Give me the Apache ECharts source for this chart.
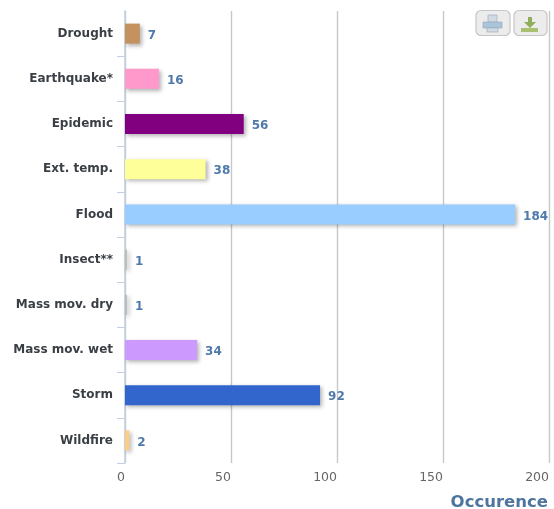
<!DOCTYPE html>
<html><head><meta charset="utf-8">
<style>html,body{margin:0;padding:0;background:#fff}#c{width:554px;height:509px;filter:blur(0.35px)}</style>
<script src="https://cdn.jsdelivr.net/npm/echarts@6/dist/echarts.min.js"></script>
</head><body><div id="c"></div>
<script>
const categories=["Drought","Earthquake*","Epidemic","Ext. temp.","Flood","Insect**","Mass mov. dry","Mass mov. wet","Storm","Wildfire"];
const occurrences=[7,16,56,38,184,1,1,34,92,2];
const barColors=["#C4925E","#FF99CC","#800080","#FFFF99","#99CCFF","#BDC2B8","#BDBDBD","#CC99FF","#3366CC","#FFCC88"];
const chart=echarts.init(document.getElementById('c'),null,{renderer:'canvas'});
const btn=(x,w)=>({type:'rect',shape:{x:x,y:10.5,width:w,height:25,r:5},style:{fill:'#ececec',stroke:'#c6c6c6',lineWidth:1.2}});
const r=(x,y,w,h,f)=>({type:'rect',shape:{x,y,width:w,height:h},style:{fill:f,stroke:'#9aa5ad',lineWidth:0.6}});
chart.setOption({
  animation:false,
  grid:{left:125,right:5,top:11,bottom:46,containLabel:false,outerBoundsMode:'none'},
  xAxis:{type:'value',min:0,max:200,interval:50,
    name:'Occurence',nameLocation:'end',nameGap:0,
    nameTextStyle:{color:'#4D759E',fontFamily:'DejaVu Sans',fontSize:16.5,fontWeight:'bold',align:'right',verticalAlign:'top',padding:[31,1,0,0]},
    axisLine:{show:false},axisTick:{show:false},
    splitLine:{show:true,lineStyle:{color:'#C8C8C8',width:1.4}},
    axisLabel:{color:'#666666',fontFamily:'DejaVu Sans',fontSize:12.5,align:'right',margin:8,
      customValues:[0,50,100,150,200],hideOverlap:false,showMinLabel:true,showMaxLabel:true}},
  yAxis:{type:'category',inverse:true,data:categories,
    axisLine:{show:true,lineStyle:{color:'#C0D0E0',width:1.5}},
    axisTick:{show:true,length:8,alignWithLabel:false,lineStyle:{color:'#C0D0E0'}},
    axisLabel:{color:'#3a3f45',fontFamily:'DejaVu Sans',fontSize:12,fontWeight:'bold',margin:12,interval:0,padding:[6,0,0,0]}},
  series:[{type:'bar',barWidth:20,
    data:occurrences.map((v,i)=>({value:v,itemStyle:{color:barColors[i]}})),
    itemStyle:{shadowColor:'rgba(0,0,0,0.3)',shadowBlur:4,shadowOffsetX:2,shadowOffsetY:2},
    label:{show:true,position:'right',distance:8,offset:[0,2],color:'#4F79AB',fontFamily:'DejaVu Sans',fontSize:12,fontWeight:'bold'}}],
  graphic:[
    {type:'rect',z:100,shape:{x:115,y:8,width:9,height:5},style:{fill:'#fff'}},
    btn(476,34),btn(514,33),
    r(488,15,9,7,'#d0dbe5'),r(483,22,19,6,'#a9c5de'),r(487,28,11,4,'#d0dbe5'),
    {type:'polygon',shape:{points:[[528,17],[532,17],[532,22],[536,22],[530,28],[524,22],[528,22]]},style:{fill:'#8fae5a'}},
    {type:'rect',shape:{x:521,y:28,width:17,height:4},style:{fill:'#a8c070'}}]
});
</script></body></html>
